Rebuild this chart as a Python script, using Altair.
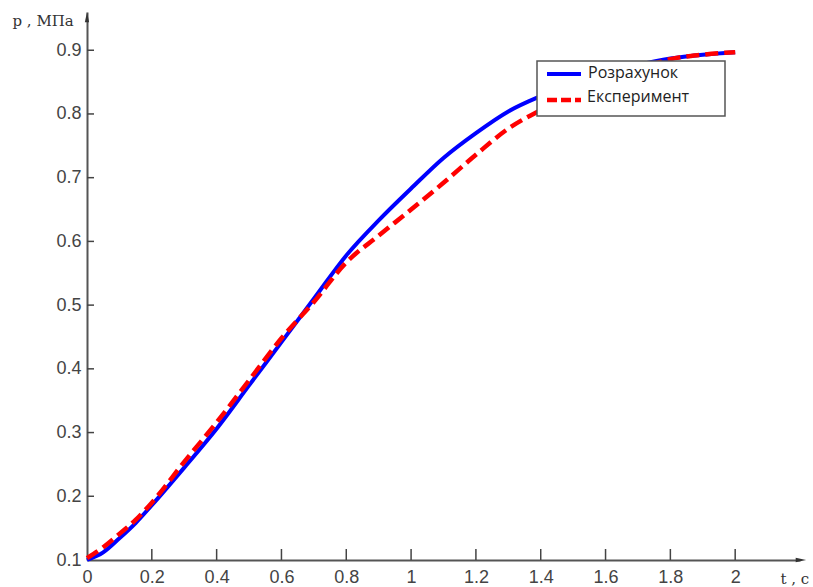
import altair as alt
import pandas as pd

# ---- data ----
t_vals = [0.0, 0.05, 0.1, 0.15, 0.2, 0.3, 0.4, 0.5, 0.6, 0.7, 0.8, 0.9, 1.0,
          1.1, 1.2, 1.3, 1.4, 1.5, 1.6, 1.7, 1.8, 1.9, 2.0]
calc_vals = [0.100, 0.112, 0.134, 0.158, 0.186, 0.245, 0.306, 0.374, 0.442,
             0.510, 0.578, 0.633, 0.683, 0.731, 0.770, 0.804, 0.828, 0.848,
             0.864, 0.877, 0.887, 0.893, 0.897]
exp_vals = [0.103, 0.120, 0.141, 0.163, 0.190, 0.254, 0.316, 0.382, 0.448,
            0.505, 0.567, 0.609, 0.650, 0.692, 0.736, 0.777, 0.806, 0.830,
            0.850, 0.870, 0.886, 0.893, 0.897]
series_names = ["Розрахунок", "Експеримент"]
series_colors = ["#0000ff", "#ff0000"]
x_tick_vals = [0.2, 0.4, 0.6, 0.8, 1.0, 1.2, 1.4, 1.6, 1.8, 2.0]
y_tick_vals = [0.2, 0.3, 0.4, 0.5, 0.6, 0.7, 0.8, 0.9]
x_label_vals = [0, 0.2, 0.4, 0.6, 0.8, 1.0, 1.2, 1.4, 1.6, 1.8, 2.0]
y_label_vals = [0.1, 0.2, 0.3, 0.4, 0.5, 0.6, 0.7, 0.8, 0.9]
x_domain = [0, 2.2]
y_domain = [0.1, 0.96]
x_title = "t , с"
y_title = "p , МПа"

W, H = 713, 548
AX = "#444444"
TITLE_FONT = "DejaVu Serif"

calc_df = pd.DataFrame({"t": t_vals, "p": calc_vals})
exp_df = pd.DataFrame({"t": t_vals, "p": exp_vals})
xt = pd.DataFrame({"t": x_tick_vals})
yt = pd.DataFrame({"p": y_tick_vals})
one = pd.DataFrame({"k": [0]})
xarr = pd.DataFrame({"t": [x_domain[1]], "p": [y_domain[0]]})
yarr = pd.DataFrame({"t": [x_domain[0]], "p": [y_domain[1]]})

xs = alt.Scale(domain=x_domain, nice=False, zero=False)
ys = alt.Scale(domain=y_domain, nice=False, zero=False)

x_axis = alt.Axis(values=x_label_vals, format="~g", ticks=False, tickSize=0,
                  grid=False, domainColor="#555555", domainWidth=2,
                  labelFont="Liberation Sans", labelFontSize=18, labelColor=AX,
                  labelPadding=8, labelFlush=False, labelOverlap=False,
                  title=x_title, titleX=693, titleY=23, titleAlign="left",
                  titleBaseline="alphabetic", titleFont=TITLE_FONT,
                  titleFontSize=15, titleFontWeight="normal", titleColor="#333333")
y_axis = alt.Axis(values=y_label_vals, format="~g", ticks=False, tickSize=0,
                  grid=False, domainColor="#555555", domainWidth=2,
                  labelFont="Liberation Sans", labelFontSize=18, labelColor=AX,
                  labelPadding=6, labelFlush=False, labelOverlap=False,
                  title=y_title, titleAngle=0, titleX=-75, titleY=13,
                  titleAlign="left", titleBaseline="alphabetic",
                  titleFont=TITLE_FONT, titleFontSize=15,
                  titleFontWeight="normal", titleColor="#333333")

X = alt.X("t:Q", scale=xs, axis=x_axis)
Y = alt.Y("p:Q", scale=ys, axis=y_axis)

calc_line = alt.Chart(calc_df).mark_line(
    color=series_colors[0], strokeWidth=4, interpolate="monotone").encode(x=X, y=Y)
exp_line = alt.Chart(exp_df).mark_line(
    color=series_colors[1], strokeWidth=4.5, strokeDash=[13, 6],
    interpolate="monotone").encode(x=X, y=Y)

x_ticks = alt.Chart(xt).mark_rule(color=AX, strokeWidth=1.5).encode(
    x=X, y=alt.value(H), y2=alt.value(H - 11))
y_ticks = alt.Chart(yt).mark_rule(color=AX, strokeWidth=1.5).encode(
    y=Y, x=alt.value(0), x2=alt.value(7))

x_arrow = alt.Chart(xarr).mark_point(
    shape="M1,0L-0.7,0.35L-0.7,-0.35Z", filled=True, size=150, color="#333333",
    opacity=1).encode(x=X, y=Y)
y_arrow = alt.Chart(yarr).mark_point(
    shape="M0,-1L0.35,0.7L-0.35,0.7Z", filled=True, size=150, color="#333333",
    opacity=1).encode(x=X, y=Y, yOffset=alt.value(6))

# ---- legend box ----
lg_box = alt.Chart(one).mark_rect(fill="white", stroke="#555555",
                                  strokeWidth=1.5).encode(
    x=alt.value(450), x2=alt.value(638), y=alt.value(49), y2=alt.value(104))
lg_sym1 = alt.Chart(one).mark_rule(color=series_colors[0], strokeWidth=4).encode(
    x=alt.value(460), x2=alt.value(494), y=alt.value(62))
lg_sym2 = alt.Chart(one).mark_rule(color=series_colors[1], strokeWidth=4.5,
                                   strokeDash=[10, 4]).encode(
    x=alt.value(460), x2=alt.value(494), y=alt.value(88))
lg_txt1 = alt.Chart(one).mark_text(align="left", baseline="middle",
                                   font="Open Sans", fontSize=16,
                                   color="#222222").encode(
    x=alt.value(501), y=alt.value(61), text=alt.value(series_names[0]))
lg_txt2 = alt.Chart(one).mark_text(align="left", baseline="middle",
                                   font="Open Sans", fontSize=16,
                                   color="#222222").encode(
    x=alt.value(500), y=alt.value(85), text=alt.value(series_names[1]))

chart = alt.layer(
    calc_line, exp_line, x_ticks, y_ticks, x_arrow, y_arrow,
    lg_box, lg_sym1, lg_sym2, lg_txt1, lg_txt2
).properties(
    width=W, height=H,
    autosize=alt.AutoSizeParams(type="none"),
    padding={"left": 87, "top": 12, "right": 13, "bottom": 27},
    background="white",
).configure_view(stroke=None)

chart.save("out.html", embed_options={"renderer": "svg", "actions": False})
